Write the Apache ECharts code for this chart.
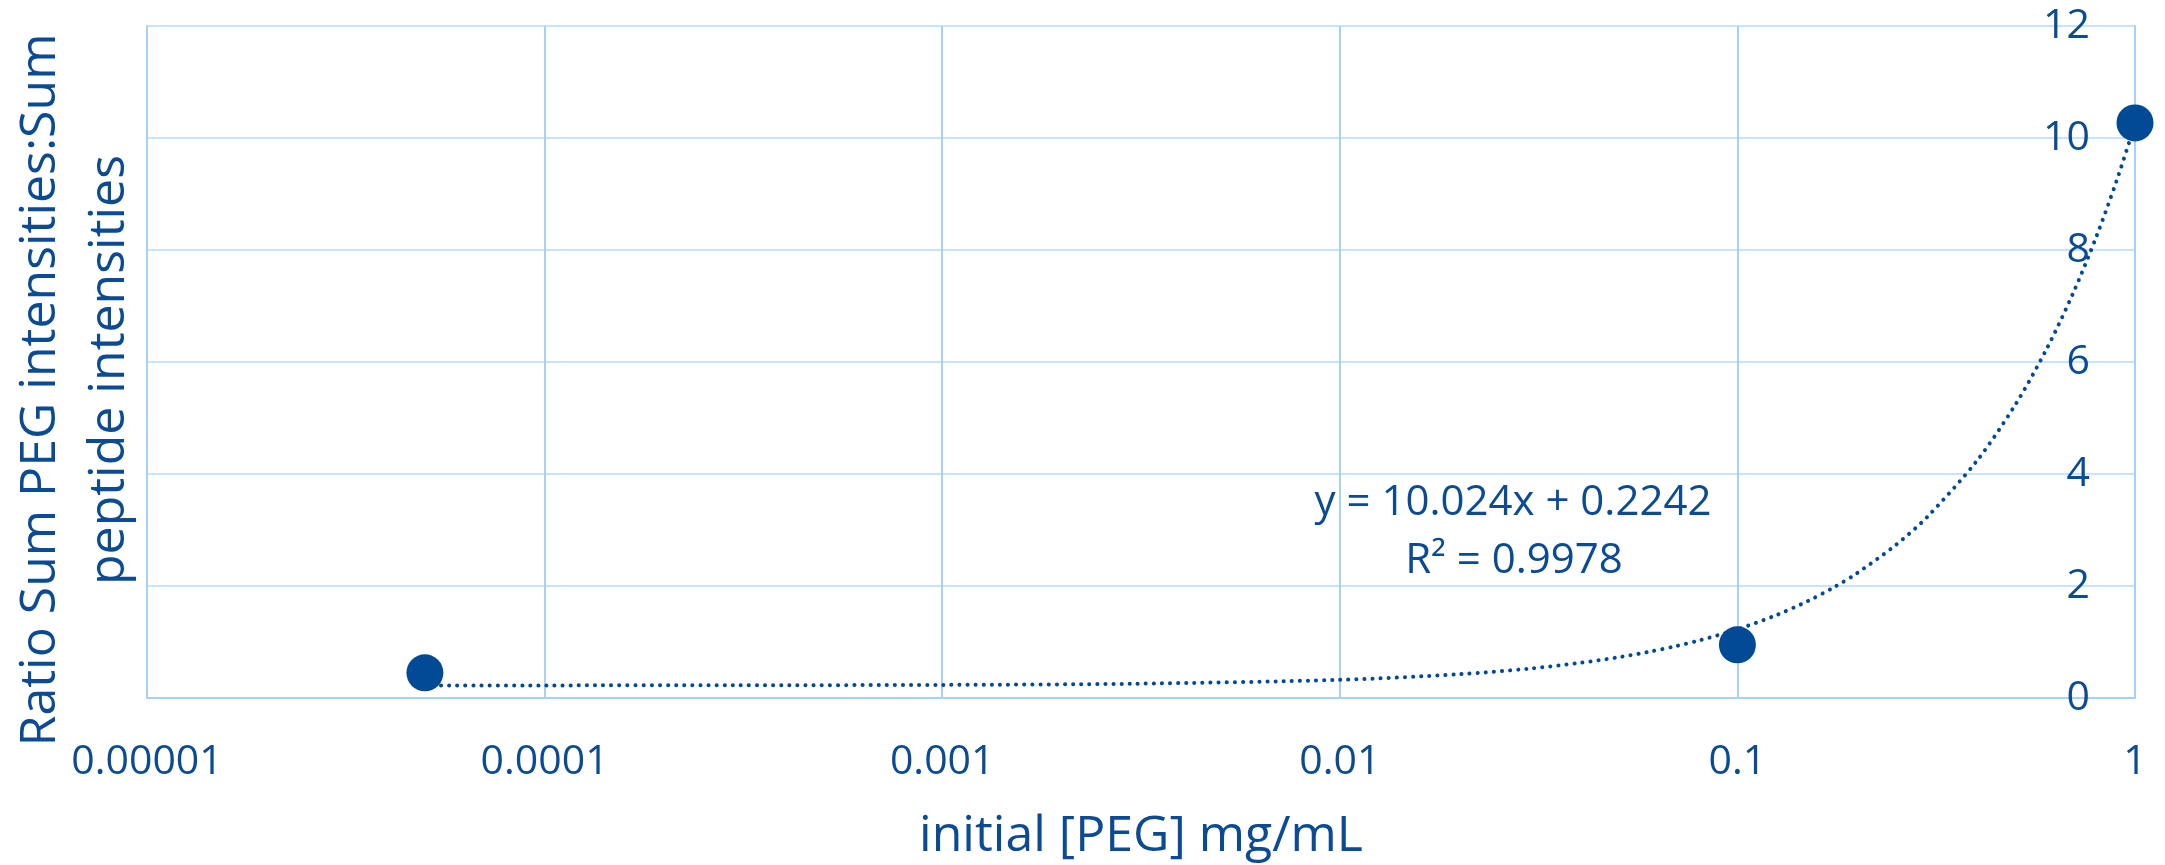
<!DOCTYPE html>
<html>
<head>
<meta charset="utf-8">
<script src="https://cdn.jsdelivr.net/npm/echarts@6/dist/echarts.min.js"></script>
<style>
  html, body { margin: 0; padding: 0; background: #fff; }
  #chart { width: 2165px; height: 865px; }
</style>
</head>
<body>
<div id="chart"></div>
<script>
// measured points
const concX = [0.00005, 0.1, 1];
const ratioY = [0.45, 0.95, 10.27];

// fitted line as drawn in the picture (y = 10.024x + 0.2242)
const trendX = [0.00005, 0.0001, 0.0003, 0.001, 0.003, 0.01, 0.02, 0.03, 0.04, 0.05, 0.06, 0.07, 0.08, 0.1, 0.125, 0.15, 0.175, 0.2, 0.25, 0.3, 0.4, 0.5, 0.6, 0.7, 0.8, 0.9, 1];
const trendY = [0.2247, 0.2252, 0.2272, 0.2342, 0.2543, 0.3244, 0.4247, 0.5249, 0.6252, 0.7254, 0.8256, 0.9259, 1.0261, 1.2266, 1.4772, 1.7278, 1.9784, 2.229, 2.7302, 3.2314, 4.2338, 5.2362, 6.2386, 7.241, 8.2434, 9.2458, 10.2482];

const xTickLabels = ['0.00001', '0.0001', '0.001', '0.01', '0.1', '1'];
const eqText = ['y = 10.024x + 0.2242', 'R² = 0.9978'];
const yNameLines = ['Ratio Sum PEG intensities:Sum', 'peptide intensities'];

const textColor = '#0B4A94';
const dotColor = '#034A96';
const vGrid = '#A8D2F5';
const hGrid = '#C9E3F8';
const font = "'Open Sans', 'Noto Sans', sans-serif";

const chart = echarts.init(document.getElementById('chart'));

const option = {
    backgroundColor: '#fff',
    animation: false,
    grid: { left: 147, right: 30, top: 26, bottom: 167, outerBoundsMode: 'none', containLabel: false },
    xAxis: {
        type: 'log',
        logBase: 10,
        min: 0.00001,
        max: 1,
        name: 'initial [PEG] mg/mL',
        nameLocation: 'middle',
        nameGap: 114,
        nameTextStyle: { color: textColor, fontSize: 50, fontFamily: font },
        axisLine: { show: true, lineStyle: { color: vGrid, width: 2 } },
        axisTick: { show: false },
        axisLabel: {
            color: textColor, fontSize: 41, fontFamily: font, margin: 44,
            formatter: v => xTickLabels[Math.round(Math.log10(v)) + 5]
        },
        splitLine: { show: true, lineStyle: { color: vGrid, width: 2 } },
        minorSplitLine: { show: false }
    },
    yAxis: [
        {
            type: 'value',
            position: 'right',
            min: 0,
            max: 12,
            interval: 2,
            axisLine: { show: true, lineStyle: { color: vGrid, width: 2 } },
            axisTick: { show: false },
            axisLabel: { inside: true, margin: 45, color: textColor, fontSize: 41, fontFamily: font },
            splitLine: { show: true, lineStyle: { color: hGrid, width: 2 } }
        },
        {
            type: 'value',
            position: 'left',
            min: 0,
            max: 12,
            interval: 2,
            axisLine: { show: true, lineStyle: { color: vGrid, width: 2 } },
            axisTick: { show: false },
            axisLabel: { show: false },
            splitLine: { show: false }
        }
    ],
    series: [
        {
            name: 'trend',
            type: 'line',
            data: trendX.map((x, i) => [x, trendY[i]]),
            showSymbol: false,
            smooth: 0.3,
            lineStyle: { color: dotColor, width: 4, type: [0.1, 8], cap: 'round' },
            z: 2
        },
        {
            name: 'points',
            type: 'scatter',
            data: concX.map((x, i) => [x, ratioY[i]]),
            symbolSize: 37,
            itemStyle: { color: dotColor, opacity: 1 },
            z: 3
        }
    ],
    graphic: [
        {
            type: 'text', x: 1513, y: 503,
            style: { text: eqText[0], fill: textColor, font: "42px " + font, align: 'center', verticalAlign: 'middle' }
        },
        {
            type: 'text', x: 1514, y: 561,
            style: { text: eqText[1], fill: textColor, font: "42px " + font, align: 'center', verticalAlign: 'middle' }
        },
        {
            type: 'text', x: 41, y: 390, rotation: Math.PI / 2,
            style: { text: yNameLines[0], fill: textColor, font: "50px " + font, align: 'center', verticalAlign: 'middle' }
        },
        {
            type: 'text', x: 110, y: 370, rotation: Math.PI / 2,
            style: { text: yNameLines[1], fill: textColor, font: "50px " + font, align: 'center', verticalAlign: 'middle' }
        }
    ]
};

chart.setOption(option);
</script>
</body>
</html>
